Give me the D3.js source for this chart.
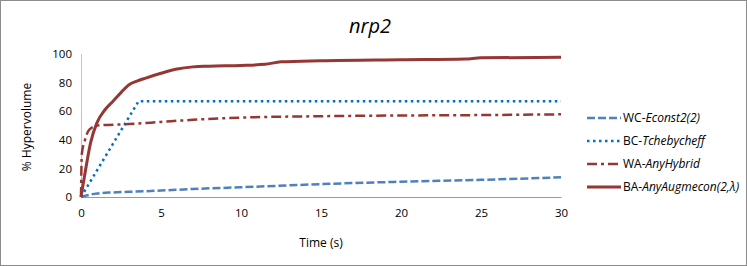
<!DOCTYPE html>
<html>
<head>
<meta charset="utf-8">
<script src="https://cdn.jsdelivr.net/npm/d3@7"></script>
<style>
  body { margin: 0; background: #fff; }
  text { font-family: "Open Sans", "Liberation Sans", sans-serif; fill: #000; }
</style>
</head>
<body>
<div id="chart"></div>
<script>
// data (time in s, % hypervolume)
var wcData = [[0,0],[0.5,1.5],[1,2.5],[2,3.2],[3,3.6],[5,4.5],[7,5.6],[10,6.8],[15,9],[20,10.7],[25,12],[30,13.8]];
var bcData = [[0,0],[3.6,67],[10,67],[20,67],[30,67]];
var waData = [[0,0],[0.05,30],[0.25,40],[0.45,46],[0.75,49],[1,50],[3,51],[5,52.5],[7,54],[10,55.5],[15,56.5],[20,57],[25,57.3],[30,57.8]];
var baData = [[0,0],[0.3,20],[0.6,38],[1,52],[1.5,61],[2,67],[2.5,73],[3,78.5],[3.5,81],[4,83],[5,86.5],[6,89.5],[7,91],[8,91.5],[10,92],[11.5,92.8],[12.5,94.5],[15,95.3],[20,96],[24,96.5],[25,97.3],[30,97.7]];

var seriesNames = ["WC-", "BC-", "WA-", "BA-"];
var seriesItalic = ["Econst2(2)", "Tchebycheff", "AnyHybrid", "AnyAugmecon(2,\u03bb)"];
var seriesColors = ["#4f81bd", "#0070c0", "#953735", "#953735"];
var seriesDash = ["8 3", "2.5 3.5", "10 4 3 4", null];
var seriesData = [wcData, bcData, waData, baData];

var xTicks = [0, 5, 10, 15, 20, 25, 30];
var yTicks = [0, 20, 40, 60, 80, 100];

var width = 747, height = 266;
var margin = {top: 54, left: 81, right: 186, bottom: 69};

var svg = d3.select("#chart")
  .append("svg")
    .attr("width", width)
    .attr("height", height);

svg.append("rect")
  .attr("x", 0.5).attr("y", 0.5)
  .attr("width", width - 1).attr("height", height - 1)
  .attr("fill", "#fff")
  .attr("stroke", "#8c8c8c");

var xScale = d3.scaleLinear().domain([0, 30]).range([margin.left, width - margin.right]);
var yScale = d3.scaleLinear().domain([0, 100]).range([height - margin.bottom, margin.top]);

// title
svg.append("text")
  .attr("x", 370).attr("y", 33)
  .attr("text-anchor", "middle")
  .style("font-size", "20px")
  .style("font-style", "italic")
  .text("nrp2");

// y axis: dotted line, no ticks
var yAxis = svg.append("g")
  .attr("transform", "translate(" + margin.left + ",0)")
  .call(d3.axisLeft(yScale).tickValues(yTicks).tickSize(0).tickPadding(9));
yAxis.select(".domain")
  .attr("stroke", "#888")
  .attr("stroke-dasharray", "1 1");
yAxis.selectAll("text").style("font-size", "11.5px");

// x axis
var xAxis = svg.append("g")
  .attr("transform", "translate(0," + yScale(0) + ")")
  .call(d3.axisBottom(xScale).tickValues(xTicks).tickSize(0).tickPadding(12));
xAxis.select(".domain").attr("stroke", "#999");
xAxis.selectAll("text").style("font-size", "11.5px");

// axis titles
svg.append("text")
  .attr("transform", "translate(27," + 127 + ") rotate(-90)")
  .attr("text-anchor", "middle")
  .attr("dy", "0.35em")
  .style("font-size", "12px")
  .text("% Hypervolume");

svg.append("text")
  .attr("x", 321).attr("y", 247)
  .attr("text-anchor", "middle")
  .style("font-size", "12px")
  .text("Time (s)");

var smoothLine = d3.line()
  .curve(d3.curveMonotoneX)
  .x(function(d) { return xScale(d[0]); })
  .y(function(d) { return yScale(d[1]); });
var straightLine = d3.line()
  .x(function(d) { return xScale(d[0]); })
  .y(function(d) { return yScale(d[1]); });

var g = svg.append("g");
seriesData.forEach(function(data, i) {
  g.append("path")
    .attr("fill", "none")
    .attr("stroke", seriesColors[i])
    .attr("stroke-width", i == 3 ? 3 : 2.5)
    .attr("stroke-dasharray", seriesDash[i])
    .attr("d", i == 1 ? straightLine(data) : smoothLine(data));
});

// legend
var legendY = [118, 141, 164, 187];
var legend = svg.append("g");
seriesNames.forEach(function(name, i) {
  legend.append("line")
    .attr("x1", 587).attr("x2", 621)
    .attr("y1", legendY[i]).attr("y2", legendY[i])
    .attr("stroke", seriesColors[i])
    .attr("stroke-width", i == 3 ? 3 : 2.5)
    .attr("stroke-dasharray", seriesDash[i]);
  var t = legend.append("text")
    .attr("x", 623).attr("y", legendY[i])
    .attr("dy", "0.35em")
    .style("font-size", "12px");
  t.append("tspan").text(name);
  t.append("tspan").style("font-style", "italic").text(seriesItalic[i]);
});
</script>
</body>
</html>
